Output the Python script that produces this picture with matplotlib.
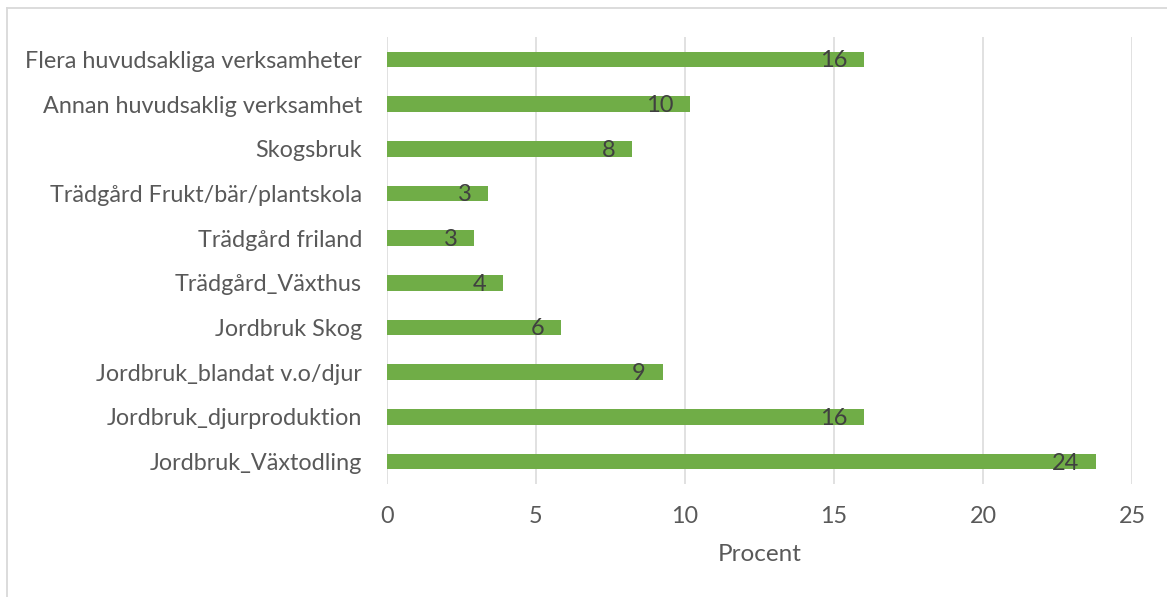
import matplotlib.pyplot as plt
from matplotlib.lines import Line2D

categories = [
    "Jordbruk_Växtodling",
    "Jordbruk_djurproduktion",
    "Jordbruk_blandat v.o/djur",
    "Jordbruk Skog",
    "Trädgård_Växthus",
    "Trädgård friland",
    "Trädgård Frukt/bär/plantskola",
    "Skogsbruk",
    "Annan huvudsaklig verksamhet",
    "Flera huvudsakliga verksamheter",
]
values = [23.8, 16.0, 9.25, 5.83, 3.88, 2.92, 3.4, 8.22, 10.17, 16.0]
x_ticks = [0, 5, 10, 15, 20, 25]

GREEN = "#70AD47"
GRID = "#D9D9D9"
TEXT = "#595959"

plt.rcParams["font.family"] = ["Lato", "DejaVu Sans"]

fig = plt.figure(figsize=(11.67, 5.97), dpi=100)
ax = fig.add_axes([387 / 1167, 1 - 484 / 597, (1132 - 387) / 1167, (484 - 37) / 597])

ypos = range(len(categories))
ax.barh(ypos, values, height=0.35, color=GREEN, zorder=3)

for y, v in zip(ypos, values):
    ax.annotate(f"{v:.0f}", xy=(v, y), xytext=(-12, -1), textcoords="offset points",
                ha="right", va="center", fontsize=17, color="#404040", zorder=4)

ax.set_xlim(0, 25)
ax.set_ylim(-0.5, len(categories) - 0.5)
ax.set_xticks(x_ticks)
ax.set_yticks(list(ypos))
ax.set_yticklabels(categories)
ax.tick_params(axis="both", length=0, colors=TEXT, labelsize=16.8)
ax.tick_params(axis="x", pad=16)
ax.tick_params(axis="y", pad=18)
ax.xaxis.grid(True, color=GRID, linewidth=1.1, zorder=0)
for s in ax.spines.values():
    s.set_visible(False)

ax.set_xlabel("Procent", fontsize=17.5, color=TEXT, labelpad=12)

# chart area border (top and left edges visible)
fig.add_artist(Line2D([7 / 1167, 1], [1 - 8 / 597, 1 - 8 / 597], color=GRID,
                      linewidth=1.3, transform=fig.transFigure))
fig.add_artist(Line2D([7 / 1167, 7 / 1167], [0, 1 - 8 / 597], color=GRID,
                      linewidth=1.3, transform=fig.transFigure))

fig.savefig("out.png", dpi=100)
plt.close(fig)
